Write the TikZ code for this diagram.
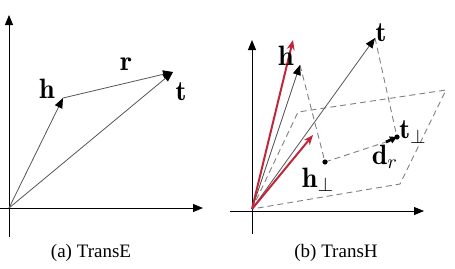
\documentclass[tikz,border=0pt]{standalone}
\usepackage{amsmath}
\usepackage{fontspec}
\newfontfamily\capfont{Liberation Serif}
\usetikzlibrary{arrows.meta}
\definecolor{cred}{HTML}{C0283A}
\definecolor{cline}{HTML}{555555}

\begin{document}
\begin{tikzpicture}[
    x=0.5pt, y=-0.5pt,
    axis/.style={black, line width=0.45pt, -{Triangle[length=5pt,width=4pt]}},
    vec/.style={cline, line width=0.4pt, -{Triangle[length=5pt,width=4pt,fill=black,color=black]}},
    redvec/.style={cred, line width=1pt, -{Stealth[length=5pt,width=4pt]}},
    proj/.style={gray, line width=0.45pt, dash pattern=on 3pt off 2pt},
    drvec/.style={black, line width=1.4pt, -{Triangle[length=3.5pt,width=3.5pt]}},
    lbl/.style={font=\fontsize{14}{16}\selectfont, inner sep=0pt},
    captxt/.style={font=\capfont\fontsize{9.5}{11}\selectfont, inner sep=0pt},
]
\useasboundingbox (0,0) rectangle (455,268);

% --- (a) TransE ---
\coordinate (Oa) at (9,208);
\coordinate (ha) at (63,98);
\coordinate (ta) at (173,72);
\draw[axis] (9,237) -- (9,15);
\draw[axis] (0,208) -- (203,208);
\draw[vec] (Oa) -- (ha);
\draw[vec] (Oa) -- (ta);
\draw[vec] (ha) -- (ta);
\node[lbl] (lha) at (47,89) {$\mathbf{h}$};
\node[lbl] (lra) at (126,64) {$\mathbf{r}$};
\node[lbl] (lta) at (181,92) {$\mathbf{t}$};
\node[captxt] (capa) at (91,253) {(a) TransE};

% --- (b) TransH ---
\coordinate (Ob) at (252,209);
\coordinate (pA) at (298,112);   % plane corners
\coordinate (pB) at (446,90);
\coordinate (pC) at (400,184);
\coordinate (hb) at (300,65);
\coordinate (hred) at (293,40);
\coordinate (hpred) at (313,135);
\coordinate (tb) at (375,38);
\coordinate (hp) at (325,162);
\coordinate (tp) at (397,137);
\coordinate (dr) at (386,142);

% hyperplane
\draw[proj] (Ob) -- (pA) -- (pB) -- (pC) -- cycle;
% projections
\draw[proj] (hb) -- (hp);
\draw[proj] (tb) -- (tp);
\draw[proj] (hp) -- (dr);

\draw[axis] (252,234) -- (252,40);
\draw[axis] (230,211) -- (424,211);
\draw[vec] (Ob) -- (hb);
\draw[vec] (Ob) -- (tb);
\draw[redvec] (Ob) -- (hred);
\draw[redvec] (Ob) -- (hpred);
\draw[drvec] (dr) -- (tp);
\fill (hp) circle (1.3pt);
\fill (tp) circle (1.3pt);

\node[lbl] (lhb) at (286,56) {$\mathbf{h}$};
\node[lbl] (ltb) at (381,33) {$\mathbf{t}$};
\node[lbl] (lhp) at (318,180) {$\mathbf{h}_\perp$};
\node[lbl] (ltp) at (413,132) {$\mathbf{t}_\perp$};
\node[lbl] (ldr) at (385,157) {$\mathbf{d}_r$};
\node[captxt] (capb) at (336,253) {(b) TransH};
\end{tikzpicture}
\end{document}
